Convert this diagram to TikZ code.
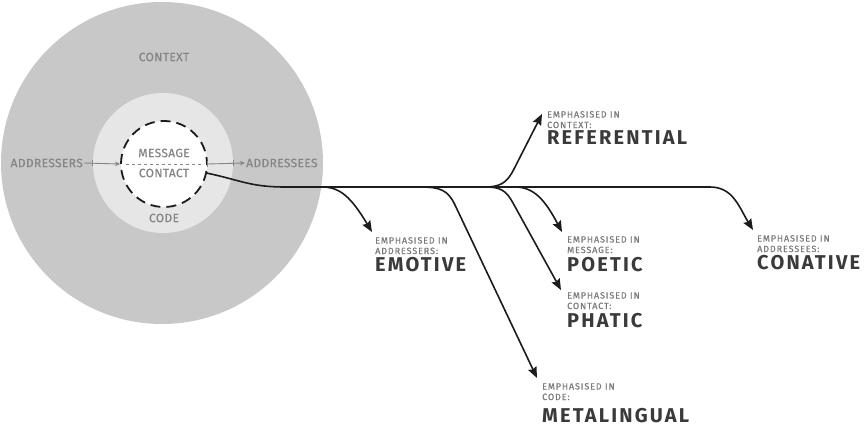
\documentclass[tikz,border=0pt]{standalone}
\usepackage{fontspec}
\setmainfont{Fira Sans}
\newfontfamily\ringfamily{Fira Sans}[LetterSpace=3, FakeBold=0.5]
\newfontfamily\notefamily{Fira Sans}[LetterSpace=10, FakeBold=0.7]
\newfontfamily\namefamily{Fira Sans}[LetterSpace=11]
\usetikzlibrary{arrows.meta}

\definecolor{ctxgrey}{HTML}{C8C8C8}
\definecolor{codegrey}{HTML}{E6E6E6}
\definecolor{ringtext}{HTML}{858585}
\definecolor{notegrey}{HTML}{7A7A7A}
\definecolor{namegrey}{HTML}{3A3A3A}
\definecolor{ink}{HTML}{1C1C1C}

\tikzset{
  ringlabel/.style={text=ringtext, font=\ringfamily\fontsize{12}{14}\selectfont, inner sep=1pt},
  note/.style={text=notegrey, font=\notefamily\fontsize{9}{10.5}\selectfont,
    align=left, anchor=north west, inner sep=0pt},
  fname/.style={text=namegrey, font=\namefamily\bfseries\fontsize{20}{22}\selectfont,
    anchor=base west, inner sep=0pt},
  flow/.style={draw=ink, line width=1.6pt, -{Stealth[length=11pt,width=9pt,inset=1.5pt]}},
  gline/.style={draw=ringtext, line width=0.9pt},
  gtip/.style={-{Stealth[length=5pt,width=4.5pt]}},
  tick/.style={draw=ringtext, line width=0.9pt},
}

\begin{document}
\begin{tikzpicture}[x=1pt,y=-1pt]
\useasboundingbox (0,0) rectangle (867,427);

% the three nested circles: context, code, message/contact
\node[circle, fill=ctxgrey, minimum size=322pt, inner sep=0pt] (context) at (162,163) {};
\node[circle, fill=codegrey, minimum size=140pt, inner sep=0pt] (code) at (163,163) {};
\node[circle, fill=white, draw=ink, line width=1.8pt, dash pattern=on 10pt off 6pt,
      dash phase=3pt, minimum size=86pt, inner sep=0pt] (msg) at (164,164) {};

% circle labels
\node[ringlabel] (ctx) at (164,57) {CONTEXT};
\node[ringlabel] (mes) at (164,153) {MESSAGE};
\node[ringlabel] (cnt) at (164,173) {CONTACT};
\node[ringlabel] (cod) at (164,218) {CODE};
\node[ringlabel, anchor=east] (adr) at (84,163) {ADDRESSERS};
\node[ringlabel, anchor=west] (ade) at (245,163) {ADDRESSEES};

% addresser -> addressee line through the message
\draw[gline, gtip] (adr.east) -- (msg.west);
\draw[gline, dashed, shorten <=6pt, shorten >=6pt] (msg.west) -- (msg.east);
\draw[gline, gtip] (msg.east) -- (ade.west);
\draw[tick] ([shift={(0,-3)}]code.west) -- ([shift={(0,3)}]code.west);
\draw[tick] ([shift={(0,-3)}]code.east) -- ([shift={(0,3)}]code.east);
\draw[tick] ([shift={(0,-3)}]msg.east) -- ([shift={(0,3)}]msg.east);

% function labels
\node[note] (ref-n) at (547,111) {EMPHASISED IN\\CONTEXT:};
\node[fname] (ref) at (547,145) {REFERENTIAL};
\node[note] (emo-n) at (375,237) {EMPHASISED IN\\ADDRESSERS:};
\node[fname] (emo) at (375,272) {EMOTIVE};
\node[note] (poe-n) at (567,236) {EMPHASISED IN\\MESSAGE:};
\node[fname] (poe) at (567,272) {POETIC};
\node[note] (pha-n) at (567,292) {EMPHASISED IN\\CONTACT:};
\node[fname] (pha) at (567,328) {PHATIC};
\node[note] (con-n) at (757,235) {EMPHASISED IN\\ADDRESSEES:};
\node[fname] (con) at (757,270) {CONATIVE};
\node[note] (met-n) at (542,383) {EMPHASISED IN\\CODE:};
\node[fname] (met) at (542,422) {METALINGUAL};

% junctions on the trunk
\coordinate (j-emo) at (322,187);
\coordinate (j-met) at (420,187);
\coordinate (j-mid) at (485,187);
\coordinate (j-poe) at (515,187);

% trunk: from the contact to the conative
\draw[flow] (msg.-12) .. controls (240,180) and (250,187) .. (285,187) -- (710,187)
  .. controls (733,187) and (739,207) .. ([shift={(-4,-5)}]con-n.north west);

% branches
\draw[flow] (j-emo) .. controls (340,187) and (351,197) .. ([shift={(-3,-5)}]emo-n.north west);
\draw[flow] (j-met) .. controls (440,187) and (448,190) .. (455,205)
  -- ([shift={(-5,-5)}]met-n.north west);
\draw[flow] (j-mid) .. controls (500,187) and (506,190) .. (513,203)
  -- ([shift={(-6,-2)}]pha-n.north west);
\draw[flow] (j-mid) .. controls (500,187) and (507,183) .. (514,169)
  -- ([shift={(-5,3)}]ref-n.north west);
\draw[flow] (j-poe) .. controls (534,187) and (545,200) .. ([shift={(-5,-4)}]poe-n.north west);
\end{tikzpicture}
\end{document}
